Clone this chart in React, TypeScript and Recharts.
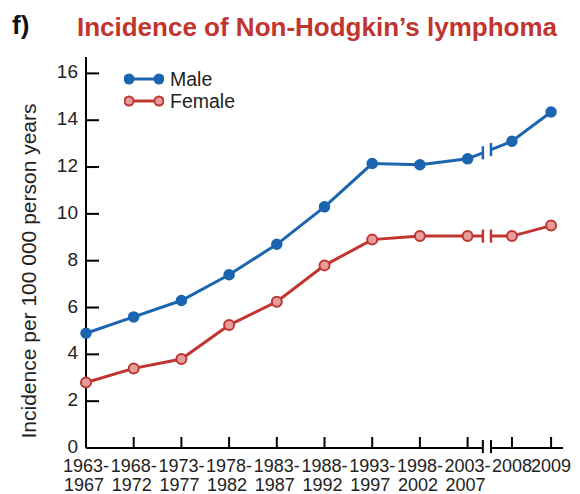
import { LineChart, Line, XAxis, YAxis, ReferenceLine, ReferenceArea, Legend } from "recharts";

// x positions of the periods along the axis (the last two are single years, squeezed after the break)
const xPos = [0, 1, 2, 3, 4, 5, 6, 7, 8, 8.93, 9.75];
const tickTop = ["1963-", "1968-", "1973-", "1978-", "1983-", "1988-", "1993-", "1998-", "2003-", "2008", "2009"];
const tickBottom = ["1967", "1972", "1977", "1982", "1987", "1992", "1997", "2002", "2007", "", ""];
const male = [4.9, 5.6, 6.3, 7.4, 8.7, 10.3, 12.15, 12.1, 12.35, 13.1, 14.35];
const female = [2.8, 3.4, 3.8, 5.25, 6.25, 7.8, 8.9, 9.05, 9.05, 9.05, 9.5];
const yTicks = [0, 2, 4, 6, 8, 10, 12, 14, 16];

const BLUE = "#1b65b0";
const RED = "#c0352f";
const PINK = "#e59c9c";
const FONT = "'Liberation Sans', Arial, Helvetica, sans-serif";

const BREAK_L = 8.32;
const BREAK_R = 8.49;

const rows = xPos.map((x, i) => ({ x, male: male[i], female: female[i] }));

// where a series crosses a given x (only used to place the break marks)
function valueAt(series: number[], x: number) {
  for (let i = 0; i < xPos.length - 1; i++) {
    if (x >= xPos[i] && x <= xPos[i + 1]) {
      const t = (x - xPos[i]) / (xPos[i + 1] - xPos[i]);
      return series[i] + t * (series[i + 1] - series[i]);
    }
  }
  return series[series.length - 1];
}

function XTick(props: any) {
  const { x, y, payload } = props;
  const i = xPos.indexOf(payload.value);
  return (
    <g>
      <line x1={x} x2={x} y1={y - 11} y2={y} stroke="#000" strokeWidth={2} />
      <text x={x} y={y + 24} textAnchor="middle" fontSize={18} fontFamily={FONT} fill="#222">
        {tickTop[i]}
      </text>
      <text x={x - 2} y={y + 43} textAnchor="middle" fontSize={18} fontFamily={FONT} fill="#222">
        {tickBottom[i]}
      </text>
    </g>
  );
}

function YTick(props: any) {
  const { x, y, payload } = props;
  return (
    <g>
      <line x1={x} x2={x + 13} y1={y} y2={y} stroke="#000" strokeWidth={2} />
      <text x={x - 8} y={y + 5} textAnchor="end" fontSize={19} fontFamily={FONT} fill="#222">
        {payload.value}
      </text>
    </g>
  );
}

function LegendContent() {
  const items = [
    { name: "Male", color: BLUE, fill: BLUE },
    { name: "Female", color: RED, fill: PINK },
  ];
  return (
    <div>
      {items.map((it) => (
        <div key={it.name} style={{ display: "flex", alignItems: "center", height: 22 }}>
          <svg width={40} height={22}>
            <line x1={5} x2={35} y1={11} y2={11} stroke={it.color} strokeWidth={3} />
            <circle cx={5} cy={11} r={4.5} fill={it.fill} stroke={it.color} strokeWidth={2} />
            <circle cx={35} cy={11} r={4.5} fill={it.fill} stroke={it.color} strokeWidth={2} />
          </svg>
          <span style={{ marginLeft: 6, fontSize: 19.5, fontFamily: FONT, color: "#222", lineHeight: "22px" }}>
            {it.name}
          </span>
        </div>
      ))}
    </div>
  );
}

function BreakMarks({ series, color }: { series: number[]; color: string }) {
  return (
    <>
      {[BREAK_L, BREAK_R].map((bx) => {
        const v = valueAt(series, bx);
        return (
          <ReferenceLine
            key={bx}
            segment={[
              { x: bx, y: v - 0.28 },
              { x: bx, y: v + 0.28 },
            ]}
            stroke={color}
            strokeWidth={2.5}
            ifOverflow="visible"
            zIndex={1500}
          />
        );
      })}
    </>
  );
}

export default function App() {
  return (
    <div style={{ position: "absolute", left: 0, top: 0, width: 580, height: 494, background: "#fff" }}>
      <svg width={580} height={494} style={{ position: "absolute", left: 0, top: 0 }}>
        <text x={12} y={34} fontSize={26} fontWeight="bold" fontFamily={FONT} fill="#111">
          f)
        </text>
        <text x={317} y={36} textAnchor="middle" fontSize={26} fontWeight="bold" fontFamily={FONT} fill={RED}>
          Incidence of Non-Hodgkin’s lymphoma
        </text>
        <text
          transform="translate(36, 271) rotate(-90)"
          textAnchor="middle"
          fontSize={21}
          fontFamily={FONT}
          fill="#222"
        >
          Incidence per 100 000 person years
        </text>
      </svg>
      <div style={{ position: "absolute", left: 0, top: 0 }}>
        <LineChart width={580} height={494} data={rows} margin={{ top: 57, right: 17, bottom: 0, left: 0 }}>
          <XAxis
            type="number"
            dataKey="x"
            domain={[0, 10]}
            ticks={xPos}
            interval={0}
            height={46}
            axisLine={false}
            tickLine={false}
            tickSize={0}
            tickMargin={0}
            tick={<XTick />}
          />
          <YAxis
            type="number"
            domain={[0, 16.7]}
            ticks={yTicks}
            interval={0}
            width={86}
            axisLine={{ stroke: "#000", strokeWidth: 2 }}
            tickLine={false}
            tickSize={0}
            tickMargin={0}
            tick={<YTick />}
          />
          {/* x axis drawn in two pieces with a break */}
          <ReferenceLine segment={[{ x: 0, y: 0 }, { x: BREAK_L, y: 0 }]} stroke="#000" strokeWidth={2} ifOverflow="visible" />
          <ReferenceLine segment={[{ x: BREAK_R, y: 0 }, { x: 10, y: 0 }]} stroke="#000" strokeWidth={2} ifOverflow="visible" />
          <ReferenceLine segment={[{ x: BREAK_L, y: -0.22 }, { x: BREAK_L, y: 0.34 }]} stroke="#000" strokeWidth={2} ifOverflow="visible" />
          <ReferenceLine segment={[{ x: BREAK_R, y: -0.22 }, { x: BREAK_R, y: 0.34 }]} stroke="#000" strokeWidth={2} ifOverflow="visible" />
          <Line
            dataKey="male"
            stroke={BLUE}
            strokeWidth={3}
            dot={{ r: 5, fill: BLUE, stroke: BLUE, strokeWidth: 1.5 }}
            isAnimationActive={false}
          />
          <Line
            dataKey="female"
            stroke={RED}
            strokeWidth={3}
            dot={{ r: 5, fill: PINK, stroke: RED, strokeWidth: 2 }}
            isAnimationActive={false}
          />
          {/* white gap cutting the lines at the break */}
          <ReferenceArea x1={BREAK_L} x2={BREAK_R} y1={0.6} y2={16.6} fill="#fff" fillOpacity={1} stroke="none" zIndex={1400} />
          {BreakMarks({ series: male, color: BLUE })}
          {BreakMarks({ series: female, color: RED })}
          <Legend
            layout="horizontal"
            verticalAlign="middle"
            align="center"
            content={<LegendContent />}
            wrapperStyle={{ position: "absolute", left: 124, top: 68, width: 150 }}
          />
        </LineChart>
      </div>
    </div>
  );
}
